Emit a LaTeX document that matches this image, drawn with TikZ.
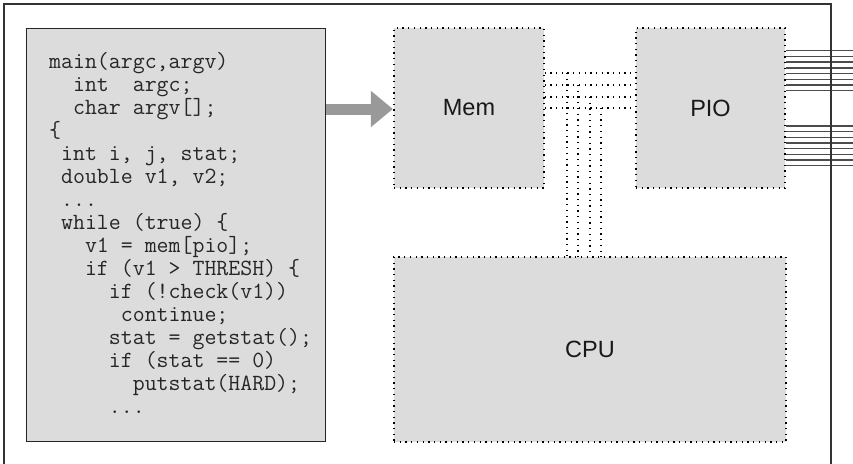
\documentclass[tikz,border=0pt]{standalone}
\usepackage{fontspec}
\setmainfont{Liberation Sans}
\usetikzlibrary{arrows.meta}
\definecolor{boxgray}{RGB}{220,220,220}
\definecolor{arrowgray}{RGB}{153,153,153}
\begin{document}
\begin{tikzpicture}[x=1pt,y=-1pt,
  unit/.style={draw=black, fill=boxgray, line width=1.3pt, dash pattern=on 1.3pt off 4.4pt,
    inner sep=0pt, font=\fontsize{23.5}{28}\selectfont, text=black!90},
  codebox/.style={draw=black!85, fill=boxgray, line width=1pt, inner sep=0pt},
  codetext/.style={anchor=north west, align=left, inner sep=0pt,
    font=\ttfamily\fontsize{23.2}{23}\selectfont, text=black!85},
  bus/.style={line width=1.3pt, dash pattern=on 1.3pt off 4.4pt},
  pin/.style={black!70, line width=1.4pt},
  frame/.style={black!80, line width=2.4pt},
  bigarrow/.style={arrowgray, line width=11pt, -{Triangle[length=22pt, width=35pt]}}]
\useasboundingbox (0,0) rectangle (853,463);
% code box
\node[codebox, minimum width=299pt, minimum height=413pt] (codebox) at (175.5,234.5) {};
\node[codetext] (code) at (49,52.2) {\strut main(argc,argv)\\
~~int~~argc;\\
~~char~argv[];\\
\{\\
~int~i,~j,~stat;\\
~double~v1,~v2;\\
~...\\
~while~(true)~\{\\
~~~v1~=~mem[pio];\\
~~~if~(v1~>~THRESH)~\{\\
~~~~~if~(!check(v1))\\
~~~~~~continue;\\
~~~~~stat~=~getstat();\\
~~~~~if~(stat~==~0)\\
~~~~~~~putstat(HARD);\\
~~~~~...};
% units
\node[unit, minimum width=150pt, minimum height=160pt] (mem) at (469,108) {Mem};
\node[unit, minimum width=149pt, minimum height=160pt] (pio) at (710.5,108) {PIO};
\node[unit, minimum width=392pt, minimum height=185pt] (cpu) at (590,349.5) {CPU};
% arrow
\coordinate (ay) at (0,109);
\draw[bigarrow] ([xshift=0.5pt]codebox.east |- ay) -- ([xshift=-0.5pt]mem.west |- ay);
% bus
\foreach \y/\x [count=\i] in {73/567, 85/578, 97/590, 108/601} {
  \coordinate (h\i) at (0,\y);
  \draw[bus] (mem.east |- h\i) -- (pio.west |- h\i);
  \coordinate (j\i) at (\x,\y);
  \draw[bus] (j\i) -- (j\i |- cpu.north);
}
% pins
\foreach \y [count=\i] in {50.7,56.4,62.1,67.8,73.5,79.3,85.0,90.7,126,131.7,137.3,143,148.7,154.3,160,165.7} {
  \coordinate (p\i) at (0,\y);
  \draw[pin] (pio.east |- p\i) -- ++(75,0);
}
% outer frame
\draw[frame] (3.7,470) -- (3.7,4) -- (830.7,4) -- (830.7,470);
\end{tikzpicture}
\end{document}
